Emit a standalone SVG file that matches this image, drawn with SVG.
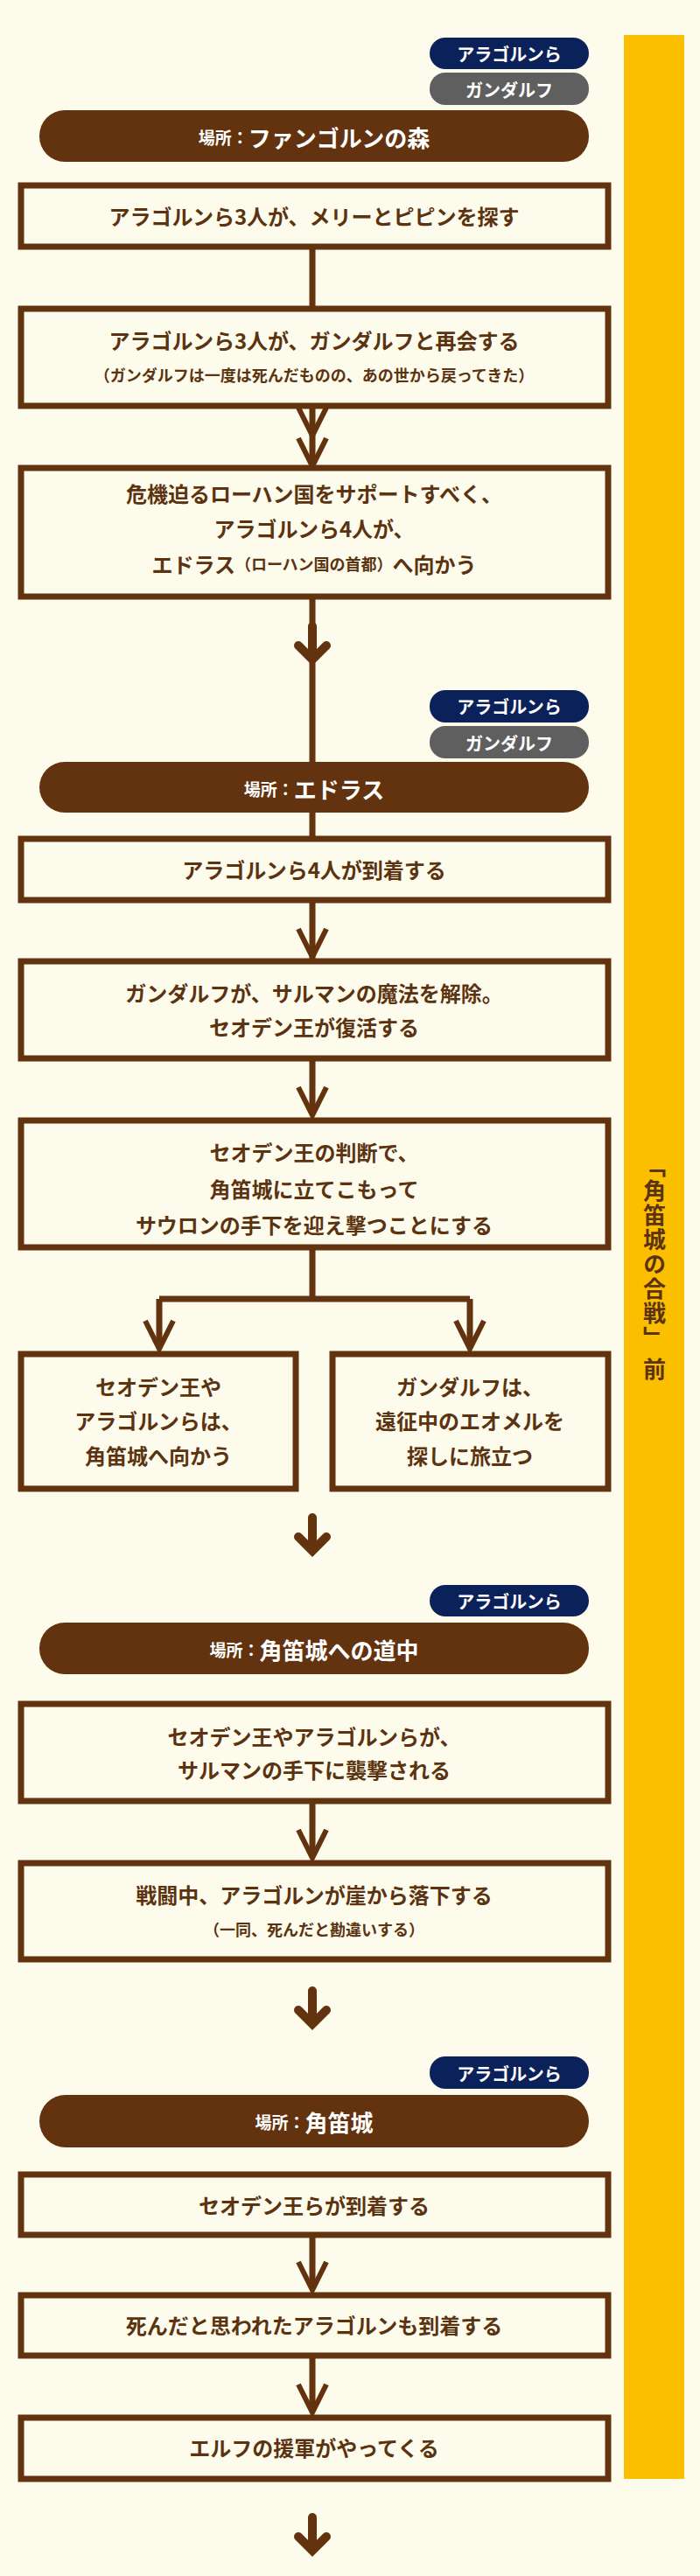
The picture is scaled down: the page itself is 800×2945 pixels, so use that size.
<svg xmlns="http://www.w3.org/2000/svg" width="800" height="2945" viewBox="0 0 800 2945">
<style>
.bg{fill:#fdfcec}
.box{fill:#fdfcec;stroke:#63330f;stroke-width:7}
.pill{fill:#63330f}
.tagA{fill:#0b2159}
.tagG{fill:#5f5f5f}
text{font-family:"Noto Sans CJK JP","Noto Sans",sans-serif;font-weight:700;text-anchor:middle;dominant-baseline:central}
.t{fill:#5c3310;font-size:24px}
.s{fill:#5c3310;font-size:18px}
.w{fill:#ffffff;font-size:20px}
.pl{fill:#ffffff;font-size:26px}
.ps{font-size:19px}
.ln{stroke:#63330f;stroke-width:7;fill:none}
.hd{stroke:#63330f;stroke-width:6;fill:none;stroke-linejoin:miter}
.ch{stroke:#63330f;stroke-width:10;fill:none;stroke-linecap:round;stroke-linejoin:miter}
</style>
<rect class="bg" x="0" y="0" width="800" height="2945"/>
<g id="side"><rect x="713" y="40" width="69" height="2794" fill="#fbbf00"/>
<text x="748" y="1450" style="writing-mode:vertical-rl;font-size:26px;fill:#5c3310;letter-spacing:2px">「角笛城の合戦」 前</text></g>

<g id="connectors">
<path class="ln" d="M357 282V496M357 464V648M357 682V1272M357 1029V1092M357 1210V1274M357 1426V1485M182 1485H537M182 1485V1541M537 1485V1541M357 2059V2123M357 2555V2617M357 2693V2757"/>
<path class="hd" d="M341 466L357 498L373 466M341 1062L357 1094L373 1062M341 1243L357 1275L373 1243M166 1510L182 1542L198 1510M521 1510L537 1542L553 1510M341 2092L357 2124L373 2092M341 2586L357 2618L373 2586M341 2726L357 2758L373 2726M341 501L357 533L373 501"/>
<path class="ch" d="M357 716V752M341 738L357 754L373 738M357 1735V1772M341 1757L357 1773L373 1757M357 2276V2313M341 2298L357 2314L373 2298M357 2878V2914M341 2900L357 2916L373 2900"/>
</g>

<g id="sec1">
<rect class="tagA" x="491" y="43" width="182" height="36" rx="18"/><text class="w" x="582" y="61">アラゴルンら</text>
<rect class="tagG" x="491" y="83" width="182" height="37" rx="18"/><text class="w" x="582" y="102">ガンダルフ</text>
<rect class="pill" x="45" y="126" width="628" height="59" rx="29"/><text class="pl" x="359" y="156"><tspan class="ps">場所：</tspan>ファンゴルンの森</text>
</g>
<g id="n1"><rect class="box" x="24" y="212" width="671" height="70"/><text class="t" x="359" y="246">アラゴルンら3人が、メリーとピピンを探す</text></g>
<g id="n2"><rect class="box" x="24" y="353" width="671" height="111"/><text class="t" x="359" y="388">アラゴルンら3人が、ガンダルフと再会する</text><text class="s" x="359" y="428">（ガンダルフは一度は死んだものの、あの世から戻ってきた）</text></g>
<g id="n3"><rect class="box" x="24" y="535" width="671" height="147"/><text class="t" x="359" y="563">危機迫るローハン国をサポートすべく、</text><text class="t" x="359" y="603">アラゴルンら4人が、</text><text class="t" x="359" y="644">エドラス<tspan class="s">（ローハン国の首都）</tspan>へ向かう</text></g>

<g id="sec2">
<rect class="tagA" x="491" y="789" width="182" height="37" rx="18"/><text class="w" x="582" y="807">アラゴルンら</text>
<rect class="tagG" x="491" y="830" width="182" height="37" rx="18"/><text class="w" x="582" y="849">ガンダルフ</text>
<rect class="pill" x="45" y="871" width="628" height="58" rx="29"/><text class="pl" x="359" y="901"><tspan class="ps">場所：</tspan>エドラス</text>
</g>
<g id="n4"><rect class="box" x="24" y="959" width="671" height="70"/><text class="t" x="359" y="993">アラゴルンら4人が到着する</text></g>
<g id="n5"><rect class="box" x="24" y="1099" width="671" height="111"/><text class="t" x="359" y="1134">ガンダルフが、サルマンの魔法を解除。</text><text class="t" x="359" y="1173">セオデン王が復活する</text></g>
<g id="n6"><rect class="box" x="24" y="1281" width="671" height="145"/><text class="t" x="359" y="1316">セオデン王の判断で、</text><text class="t" x="359" y="1358">角笛城に立てこもって</text><text class="t" x="359" y="1399">サウロンの手下を迎え撃つことにする</text></g>
<g id="n7"><rect class="box" x="24" y="1548" width="314" height="154"/><text class="t" x="181" y="1584">セオデン王や</text><text class="t" x="181" y="1623">アラゴルンらは、</text><text class="t" x="181" y="1663">角笛城へ向かう</text></g>
<g id="n8"><rect class="box" x="380" y="1548" width="315" height="154"/><text class="t" x="537" y="1584">ガンダルフは、</text><text class="t" x="537" y="1623">遠征中のエオメルを</text><text class="t" x="537" y="1663">探しに旅立つ</text></g>

<g id="sec3">
<rect class="tagA" x="491" y="1812" width="182" height="36" rx="18"/><text class="w" x="582" y="1830">アラゴルンら</text>
<rect class="pill" x="45" y="1855" width="628" height="59" rx="29"/><text class="pl" x="359" y="1885"><tspan class="ps">場所：</tspan>角笛城への道中</text>
</g>
<g id="n9"><rect class="box" x="24" y="1948" width="671" height="111"/><text class="t" x="359" y="1984">セオデン王やアラゴルンらが、</text><text class="t" x="359" y="2022">サルマンの手下に襲撃される</text></g>
<g id="n10"><rect class="box" x="24" y="2130" width="671" height="110"/><text class="t" x="359" y="2165">戦闘中、アラゴルンが崖から落下する</text><text class="s" x="359" y="2205">（一同、死んだと勘違いする）</text></g>

<g id="sec4">
<rect class="tagA" x="491" y="2351" width="182" height="37" rx="18"/><text class="w" x="582" y="2370">アラゴルンら</text>
<rect class="pill" x="45" y="2395" width="628" height="60" rx="30"/><text class="pl" x="359" y="2425"><tspan class="ps">場所：</tspan>角笛城</text>
</g>
<g id="n11"><rect class="box" x="24" y="2486" width="671" height="69"/><text class="t" x="359" y="2520">セオデン王らが到着する</text></g>
<g id="n12"><rect class="box" x="24" y="2624" width="671" height="69"/><text class="t" x="359" y="2657">死んだと思われたアラゴルンも到着する</text></g>
<g id="n13"><rect class="box" x="24" y="2764" width="671" height="70"/><text class="t" x="359" y="2797">エルフの援軍がやってくる</text></g>
</svg>
